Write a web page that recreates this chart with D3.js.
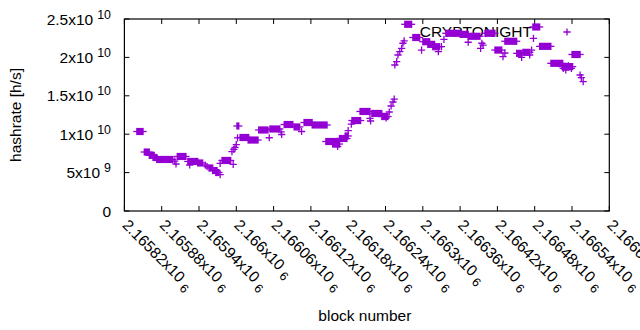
<!DOCTYPE html>
<html><head><meta charset="utf-8">
<script src="https://cdn.jsdelivr.net/npm/d3@7"></script>
<style>
body{margin:0;background:#fff;}
text{font-family:"Liberation Sans",Arial,sans-serif;fill:#000;}
</style></head>
<body><svg id="c" width="640" height="330"></svg>
<script>
// runs of consecutive blocks sharing one hashrate value
const runStart = [2165840,2165852,2165860,2165866,2165872,2165905,2165922,2165938,2165956,2165962,2165967,2165977,2166001,2166006,2166019,2166036,2166054,2166077,2166093,2166109,2166122,2166144,2166155,2166166,2166175,2166186,2166199,2166218,2166234,2166271,2166284,2166300,2166308,2166316,2166337,2166360,2166373,2166400,2166416,2166432,2166451,2166461,2166477,2166488,2166506,2166524,2166540];
const runEnd   = [2165850,2165860,2165868,2165872,2165898,2165919,2165938,2165946,2165962,2165969,2165972,2165991,2166004,2166020,2166035,2166051,2166070,2166091,2166102,2166122,2166146,2166164,2166166,2166178,2166180,2166200,2166215,2166234,2166244,2166282,2166295,2166311,2166319,2166327,2166360,2166373,2166392,2166416,2166427,2166451,2166459,2166472,2166488,2166506,2166525,2166541,2166553];
const runValue = [10.35e9,7.68e9,7.25e9,6.97e9,6.71e9,7.10e9,6.45e9,6.25e9,5.60e9,5.27e9,5.01e9,6.58e9,11.07e9,9.57e9,9.24e9,10.55e9,10.68e9,11.26e9,10.94e9,11.52e9,11.20e9,9.05e9,8.72e9,9.44e9,9.77e9,11.78e9,12.96e9,12.70e9,12.30e9,24.31e9,22.59e9,22.04e9,21.70e9,21.39e9,23.14e9,23.00e9,22.75e9,23.14e9,20.96e9,22.10e9,20.53e9,20.66e9,23.96e9,21.44e9,19.23e9,18.80e9,20.38e9];
// isolated blocks
const pointBlock = [2165903,2165901,2165925,2165950,2165953,2165974,2165974,2165995,2165993,2165996,2165998,2166000,2166002,2166053,2166073,2166072,2166105,2166163,2166180,2166185,2166215,2166216,2166241,2166246,2166249,2166252,2166254,2166255,2166258,2166260,2166263,2166266,2166268,2166270,2166298,2166325,2166330,2166334,2166373,2166395,2166393,2166397,2166429,2166432,2166459,2166472,2166475,2166478,2166526,2166530,2166534,2166539,2166553,2166555,2166558];
const pointValue = [6.12e9,6.50e9,5.99e9,5.99e9,5.79e9,4.73e9,6.21e9,6.08e9,7.72e9,8.03e9,8.29e9,8.63e9,9.51e9,9.54e9,9.96e9,10.30e9,10.35e9,8.40e9,10.46e9,11.30e9,12.07e9,11.72e9,12.11e9,12.89e9,13.67e9,14.19e9,14.58e9,19.01e9,19.44e9,20.31e9,20.74e9,21.18e9,21.84e9,22.14e9,20.96e9,20.74e9,21.39e9,22.36e9,21.97e9,21.84e9,21.18e9,21.61e9,20.09e9,20.57e9,20.01e9,20.31e9,20.96e9,22.49e9,18.58e9,18.36e9,18.92e9,18.58e9,17.71e9,17.36e9,16.84e9];
const yTickValues = [0,5e9,1e10,1.5e10,2e10,2.5e10];
const yTickMant = ["0","5x10","1x10","1.5x10","2x10","2.5x10"];
const yTickExp  = ["","9","10","10","10","10"];
const xTickValues = [2165820,2165880,2165940,2166000,2166060,2166120,2166180,2166240,2166300,2166360,2166420,2166480,2166540,2166600];
const xTickMant = ["2.16582","2.16588","2.16594","2.166","2.16606","2.16612","2.16618","2.16624","2.1663","2.16636","2.16642","2.16648","2.16654","2.1666"];
const seriesName = "CRYPTONIGHT";

const L=124.4,R=609.3,T=19,B=211;
const col="#9400d3", fs=15.5, ms=3.6;
const svg=d3.select("#c");
const x=d3.scaleLinear().domain([2165820,2166600]).range([L,R]);
const y=d3.scaleLinear().domain([0,2.5e10]).range([B,T]);

// axes ticks (inward, mirrored)
const g=svg.append("g").attr("stroke","#000").attr("stroke-width",1);
xTickValues.forEach(v=>{
  const px=x(v);
  g.append("line").attr("x1",px).attr("x2",px).attr("y1",B).attr("y2",B-5);
  g.append("line").attr("x1",px).attr("x2",px).attr("y1",T).attr("y2",T+5);
});
yTickValues.forEach(v=>{
  const py=y(v);
  g.append("line").attr("x1",L).attr("x2",L+5).attr("y1",py).attr("y2",py);
  g.append("line").attr("x1",R).attr("x2",R-5).attr("y1",py).attr("y2",py);
});

// y labels
yTickValues.forEach((v,i)=>{
  const t=svg.append("text").attr("x",111).attr("y",y(v)+5.5).attr("text-anchor","end").style("font-size",fs+"px");
  t.append("tspan").text(yTickMant[i]);
  if(yTickExp[i]){
    t.append("tspan").attr("dx",4).attr("dy",-6).style("font-size","12.4px").text(yTickExp[i]);
  }
});
// x labels
xTickValues.forEach((v,i)=>{
  const t=svg.append("text").attr("transform",`translate(${x(v)-3},${226}) rotate(45)`).style("font-size",fs+"px");
  t.append("tspan").text(xTickMant[i]+"x10");
  t.append("tspan").attr("dx",4).attr("dy",4).style("font-size","12.4px").text("6");
});

svg.append("text").attr("transform",`translate(21,${(T+B)/2}) rotate(-90)`).attr("text-anchor","middle").style("font-size",fs+"px").text("hashrate [h/s]");
svg.append("text").attr("x",(L+R)/2-2).attr("y",321).attr("text-anchor","middle").style("font-size",fs+"px").text("block number");

// key
svg.append("text").attr("x",532).attr("y",37).attr("text-anchor","end").style("font-size",fs+"px").text(seriesName);
svg.append("path").attr("d",`M${567-ms},32H${567+ms}M567,${32-ms}V${32+ms}`).attr("stroke",col).attr("stroke-width",1.3).attr("fill","none");

// data: runs
const runs=runStart.map((s,i)=>({s,e:runEnd[i],v:runValue[i]}));
svg.append("g").selectAll("path").data(runs).join("path")
  .attr("d",d=>{const X0=x(d.s),X1=x(d.e),Y=y(d.v);
    return `M${X0-0.65},${Y-ms}H${X1+0.65}V${Y+ms}H${X0-0.65}Z`;})
  .attr("fill",col);
svg.append("g").selectAll("path").data(runs).join("path")
  .attr("d",d=>{const X0=x(d.s),X1=x(d.e),Y=y(d.v);
    return `M${X0-ms},${Y}H${X1+ms}`;})
  .attr("stroke",col).attr("stroke-width",1.3);
// data: single points
const pts=pointBlock.map((b,i)=>({b,v:pointValue[i]}));
svg.append("g").selectAll("path").data(pts).join("path")
  .attr("d",d=>{const X=x(d.b),Y=y(d.v);return `M${X-ms},${Y}H${X+ms}M${X},${Y-ms}V${Y+ms}`;})
  .attr("stroke",col).attr("stroke-width",1.3).attr("fill","none");

// border
svg.append("rect").attr("x",L).attr("y",T).attr("width",R-L).attr("height",B-T).attr("fill","none").attr("stroke","#000").attr("stroke-width",1.2);
</script></body></html>
